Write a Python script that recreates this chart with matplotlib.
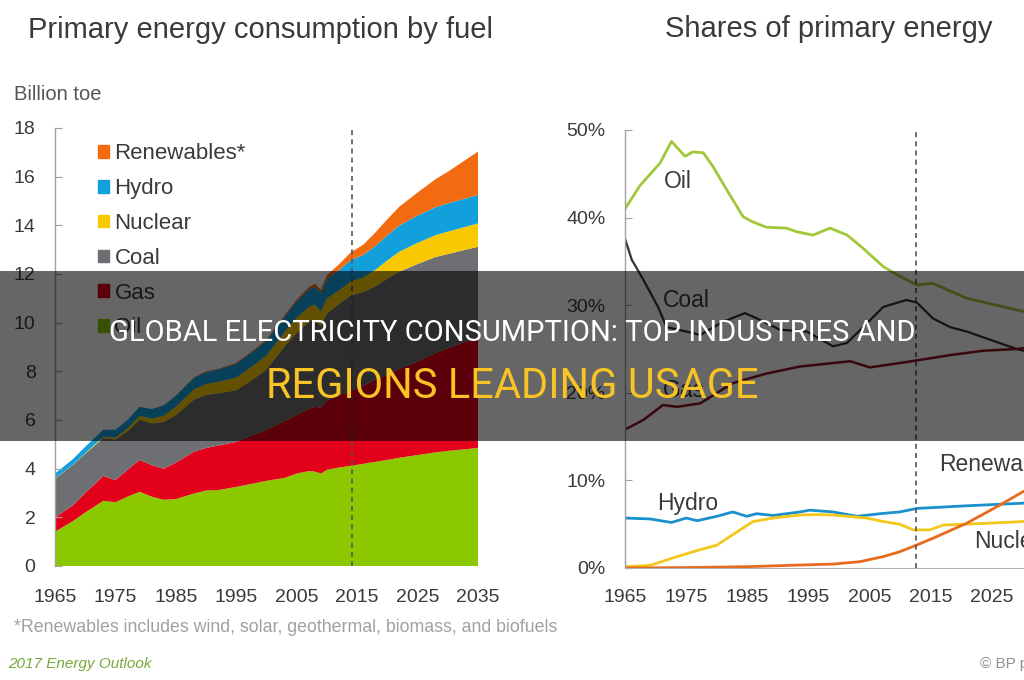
import matplotlib
matplotlib.use("Agg")
import matplotlib.pyplot as plt
from matplotlib.patches import Rectangle, Patch
from matplotlib.ticker import FuncFormatter

# === Data: primary energy consumption by fuel (billion toe) ===
years = [1965, 1968, 1970, 1973, 1975, 1977, 1979, 1981, 1983, 1985, 1988, 1990,
         1992, 1995, 1998, 2000, 2003, 2005, 2007, 2008, 2009, 2010, 2012, 2014,
         2016, 2018, 2020, 2022, 2025, 2028, 2030, 2035]
oil = [1.41, 1.85, 2.20, 2.68, 2.62, 2.85, 3.05, 2.85, 2.72, 2.75, 2.98, 3.10,
       3.12, 3.25, 3.40, 3.50, 3.62, 3.80, 3.90, 3.88, 3.80, 3.95, 4.05, 4.12,
       4.20, 4.28, 4.36, 4.45, 4.56, 4.67, 4.73, 4.85]
gas = [0.59, 0.65, 0.80, 1.02, 0.91, 1.10, 1.31, 1.30, 1.28, 1.50, 1.72, 1.75,
       1.83, 1.85, 2.00, 2.10, 2.33, 2.40, 2.55, 2.67, 2.70, 2.85, 2.95, 3.08,
       3.20, 3.37, 3.49, 3.65, 3.84, 4.08, 4.22, 4.55]
coal = [1.59, 1.66, 1.62, 1.56, 1.67, 1.59, 1.66, 1.71, 1.92, 1.95, 2.14, 2.18,
        2.15, 2.12, 2.31, 2.47, 3.08, 3.38, 3.58, 3.58, 3.36, 3.57, 3.77, 3.93,
        3.86, 3.84, 3.96, 4.00, 4.01, 3.95, 3.87, 3.72]
nuclear = [0.01, 0.01, 0.02, 0.05, 0.08, 0.12, 0.15, 0.20, 0.26, 0.34, 0.42, 0.45,
           0.47, 0.53, 0.56, 0.58, 0.60, 0.63, 0.62, 0.62, 0.61, 0.63, 0.56, 0.57,
           0.60, 0.68, 0.75, 0.82, 0.87, 0.90, 0.92, 0.96]
hydro = [0.20, 0.23, 0.26, 0.29, 0.32, 0.34, 0.37, 0.39, 0.42, 0.45, 0.47, 0.49,
         0.50, 0.56, 0.59, 0.60, 0.61, 0.66, 0.70, 0.73, 0.74, 0.78, 0.83, 0.88,
         0.92, 0.98, 1.03, 1.08, 1.12, 1.15, 1.16, 1.17]
renewables = [0.00, 0.00, 0.00, 0.00, 0.00, 0.00, 0.00, 0.00, 0.00, 0.01, 0.02, 0.03,
              0.03, 0.04, 0.04, 0.05, 0.06, 0.08, 0.10, 0.12, 0.14, 0.17, 0.24, 0.32,
              0.42, 0.55, 0.66, 0.77, 0.95, 1.15, 1.30, 1.78]
fuel_labels = ["Oil", "Gas", "Coal", "Nuclear", "Hydro", "Renewables*"]

# === Data: shares of primary energy (%) ===
oil_share_years = [1965, 1967.5, 1970.7, 1972.6, 1974.8, 1976.1, 1977.8, 1979.4, 1981.6,
                   1984.3, 1985.9, 1988.1, 1991.4, 1993, 1995.7, 1998.5, 2001.3, 2003.9,
                   2007.2, 2009.9, 2012.7, 2015.3, 2020.8, 2030, 2035]
oil_share = [41.0, 43.7, 46.2, 48.7, 47.0, 47.5, 47.4, 45.8, 43.2, 40.1, 39.5, 38.9,
             38.8, 38.4, 38.0, 38.8, 38.0, 36.5, 34.4, 33.3, 32.3, 32.5, 30.8, 29.3, 28.5]
coal_share_years = [1965, 1966.1, 1968, 1970.4, 1971.8, 1975, 1977.3, 1981, 1984.6,
                    1986.5, 1990.3, 1994.7, 1999, 2001.3, 2003.9, 2007.2, 2011, 2012.7,
                    2015.3, 2018.1, 2020.8, 2029, 2035]
coal_share = [37.6, 35.2, 32.9, 29.8, 27.5, 27.0, 26.6, 28.1, 29.1, 28.5, 27.2, 27.0,
              25.3, 25.7, 27.5, 29.8, 30.6, 30.3, 28.5, 27.5, 27.0, 25.0, 24.0]
gas_share_years = [1965, 1968, 1971.2, 1973.5, 1977.3, 1982.6, 1988.1, 1993.6, 1999,
                   2001.8, 2005, 2009.9, 2012.7, 2018.1, 2023.5, 2029, 2035]
gas_share = [15.8, 16.9, 18.6, 18.4, 18.8, 21.1, 22.2, 23.0, 23.4, 23.6, 22.9, 23.4,
             23.7, 24.3, 24.8, 25.0, 25.5]
hydro_share_years = [1965, 1969.1, 1972.6, 1975, 1976.8, 1980, 1982.6, 1984.9, 1986.5,
                     1989.2, 1993.6, 1995.2, 1999, 2002.9, 2006.7, 2009.9, 2012.7,
                     2020.8, 2030, 2035]
hydro_share = [5.7, 5.6, 5.2, 5.7, 5.4, 5.9, 6.4, 5.9, 6.2, 6.0, 6.4, 6.6, 6.4, 5.9,
               6.2, 6.4, 6.8, 7.1, 7.4, 7.5]
nuclear_share_years = [1965, 1969.1, 1973.5, 1977.3, 1980, 1982.6, 1985.9, 1989.2,
                       1993.6, 1996.3, 1999, 2004.5, 2007.2, 2009.9, 2012.1, 2014.8,
                       2017, 2020.8, 2030, 2035]
nuclear_share = [0.15, 0.3, 1.3, 2.1, 2.6, 3.8, 5.3, 5.7, 6.05, 6.1, 6.05, 5.7, 5.3,
                 5.0, 4.35, 4.35, 4.9, 5.0, 5.3, 5.4]
renew_share_years = [1965, 1975, 1985, 1993.6, 1999, 2003.4, 2007.2, 2009.9, 2012.7,
                     2015.3, 2020.8, 2026.3, 2030, 2035]
renew_share = [0.0, 0.05, 0.15, 0.34, 0.45, 0.72, 1.3, 1.86, 2.63, 3.39, 5.1, 7.2, 8.7, 10.2]

year_ticks = [1965, 1975, 1985, 1995, 2005, 2015, 2025, 2035]

# === Styling ===
FUEL_COLORS = ["#8cc800", "#e3001b", "#6e6f72", "#f8c800", "#12a0dc", "#f36b10"]
TXT = "#3a3a3a"
FONT = "Liberation Sans"
plt.rcParams["font.family"] = [FONT, "DejaVu Sans"]

fig = plt.figure(figsize=(10.24, 6.8), dpi=100)
fig.patch.set_facecolor("white")


def style_axis(ax, xpad):
    for side in ("top", "right"):
        ax.spines[side].set_visible(False)
    ax.spines["left"].set_color("#a0a0a0")
    ax.spines["left"].set_linewidth(1.0)
    ax.tick_params(axis="y", direction="in", length=5, color="#a0a0a0",
                   labelsize=14, labelcolor=TXT, pad=14)
    ax.tick_params(axis="x", length=0, labelsize=14, labelcolor=TXT, pad=xpad)
    ax.set_xticks(year_ticks)
    ax.set_xlim(1965, 2035)


# === Left: stacked area ===
ax1 = fig.add_axes([55 / 1024, 114 / 680, 423 / 1024, 438 / 680])
polys = ax1.stackplot(years, oil, gas, coal, nuclear, hydro, renewables,
                      colors=FUEL_COLORS, linewidth=0, labels=fuel_labels)
style_axis(ax1, 16.5)
ax1.spines["bottom"].set_visible(False)
ax1.set_ylim(0, 18)
ax1.set_yticks(range(0, 19, 2))
ax1.axvline(2014.2, color="#555555", linestyle=(0, (3, 2.5)), linewidth=1.2, zorder=5)

handles = [Patch(color=c) for c in FUEL_COLORS][::-1]
ax1.legend(handles, fuel_labels[::-1], loc="upper left", bbox_to_anchor=(0.08, 0.985),
           frameon=False, fontsize=16, handlelength=0.5, handleheight=0.5,
           handletextpad=0.25, labelspacing=0.62, labelcolor=TXT, borderaxespad=0)

fig.text(28 / 1024, 1 - 30 / 680, "Primary energy consumption by fuel",
         fontsize=21, color=TXT, va="center", ha="left")
fig.text(14 / 1024, 1 - 95 / 680, "Billion toe", fontsize=14.5, color="#555555",
         va="center", ha="left")

# === Right: share lines ===
ax2 = fig.add_axes([625 / 1024, 112 / 680, 428.4 / 1024, 438 / 680])
style_axis(ax2, 15)
ax2.spines["bottom"].set_color("#b0b0b0")
ax2.set_ylim(0, 50)
ax2.set_yticks(range(0, 51, 10))
ax2.yaxis.set_major_formatter(FuncFormatter(lambda v, _: f"{v:.0f}%"))

ax2.plot(oil_share_years, oil_share, color="#a2c83a", lw=2)
ax2.plot(coal_share_years, coal_share, color="#333333", lw=1.6)
ax2.plot(gas_share_years, gas_share, color="#8a1424", lw=1.8)
ax2.plot(hydro_share_years, hydro_share, color="#1c90cc", lw=2)
ax2.plot(nuclear_share_years, nuclear_share, color="#f2c81a", lw=2)
ax2.plot(renew_share_years, renew_share, color="#e86a1c", lw=2)
ax2.axvline(2012.6, color="#555555", linestyle=(0, (3, 2.5)), linewidth=1.2, zorder=5)

lab_kw = dict(fontsize=16.5, color=TXT, va="center")
ax2.text(1973.6, 44.1, "Oil", ha="center", **lab_kw)
ax2.text(1975.0, 30.5, "Coal", ha="center", **lab_kw)
ax2.text(1974.6, 20.3, "Gas", ha="center", **lab_kw)
ax2.text(1975.3, 7.4, "Hydro", ha="center", **lab_kw)
ax2.text(2016.4, 11.8, "Renewables", ha="left", **lab_kw)
ax2.text(2022.1, 3.0, "Nuclear", ha="left", **lab_kw)

fig.text(665 / 1024, 1 - 29 / 680, "Shares of primary energy", fontsize=21,
         color=TXT, va="center", ha="left")

# === Footer ===
fig.text(14 / 1024, 1 - 627 / 680,
         "*Renewables includes wind, solar, geothermal, biomass, and biofuels",
         fontsize=12.8, color="#a0a0a0", va="center", ha="left")
fig.text(8 / 1024, 1 - 664 / 680, "2017 Energy Outlook", fontsize=11,
         color="#78a83a", style="italic", va="center", ha="left")
fig.text(980 / 1024, 1 - 664 / 680, "\u00a9 BP p.l.c. 2017", fontsize=11,
         color="#909090", va="center", ha="left")

# === Overlay banner ===
fig.patches.append(Rectangle((0, 1 - 441 / 680), 1, 170 / 680, transform=fig.transFigure,
                             facecolor="black", alpha=0.6, edgecolor="none", zorder=10))
fig.text(0.5, 1 - 333 / 680, "GLOBAL ELECTRICITY CONSUMPTION: TOP INDUSTRIES AND",
         fontsize=21, color="white", ha="center", va="center", family="Roboto",
         zorder=11)
fig.text(0.5, 1 - 386 / 680, "REGIONS LEADING USAGE", fontsize=30, color="#f7c325",
         ha="center", va="center", family="Roboto", zorder=11)

fig.savefig("out.png", dpi=100)
